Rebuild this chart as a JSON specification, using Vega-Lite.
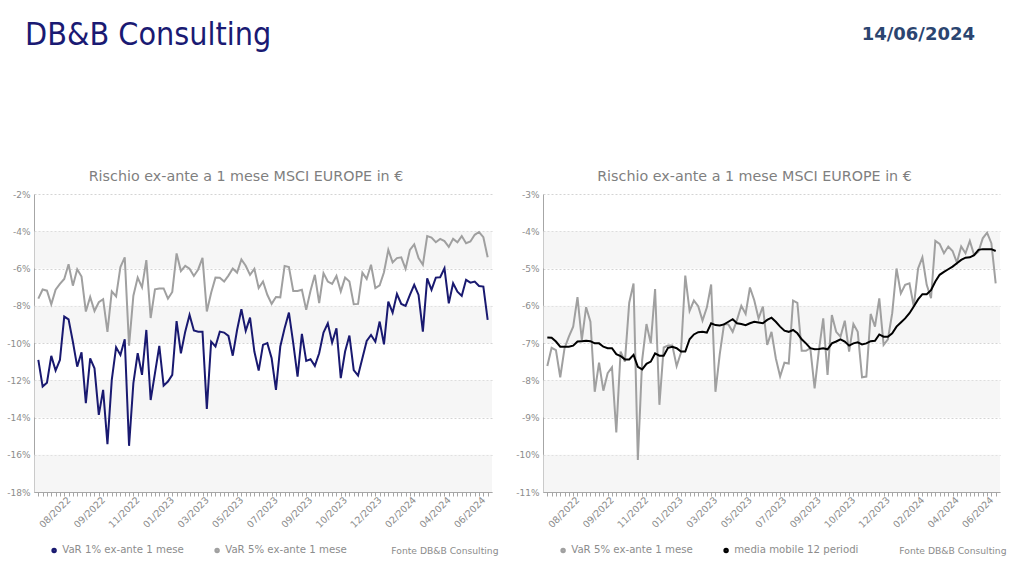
{
  "$schema": "https://vega.github.io/schema/vega-lite/v6.json",
  "background": "white",
  "padding": {"left": 6, "top": 18, "right": 5, "bottom": 5},
  "title": {"text": "DB&B Consulting", "anchor": "start", "frame": "group", "fontSize": 32, "font": "DejaVu Sans Condensed", "fontWeight": "normal", "color": "#1a1a73", "offset": -26, "dx": -9},
  "datasets": {
    "bandsL": [{"a": -4, "b": -6}, {"a": -8, "b": -10}, {"a": -12, "b": -14}, {"a": -16, "b": -18}],
    "bandsR": [{"a": -4, "b": -5}, {"a": -6, "b": -7}, {"a": -8, "b": -9}, {"a": -10, "b": -11}],
    "var": [
      {"d": "2022-06-17", "v1": -10.91, "v5": -7.62, "ma": -6.85},
      {"d": "2022-06-24", "v1": -12.34, "v5": -7.13, "ma": -6.86},
      {"d": "2022-07-01", "v1": -12.13, "v5": -7.19, "ma": -6.96},
      {"d": "2022-07-08", "v1": -10.69, "v5": -7.92, "ma": -7.10},
      {"d": "2022-07-15", "v1": -11.48, "v5": -7.14, "ma": -7.10},
      {"d": "2022-07-22", "v1": -10.91, "v5": -6.83, "ma": -7.10},
      {"d": "2022-07-29", "v1": -8.58, "v5": -6.56, "ma": -7.07},
      {"d": "2022-08-05", "v1": -8.73, "v5": -5.77, "ma": -6.96},
      {"d": "2022-08-12", "v1": -9.93, "v5": -6.92, "ma": -6.95},
      {"d": "2022-08-19", "v1": -11.27, "v5": -6.04, "ma": -6.94},
      {"d": "2022-08-26", "v1": -10.50, "v5": -6.43, "ma": -6.95},
      {"d": "2022-09-02", "v1": -13.23, "v5": -8.31, "ma": -7.01},
      {"d": "2022-09-09", "v1": -10.82, "v5": -7.53, "ma": -7.01},
      {"d": "2022-09-16", "v1": -11.36, "v5": -8.28, "ma": -7.10},
      {"d": "2022-09-23", "v1": -13.86, "v5": -7.81, "ma": -7.14},
      {"d": "2022-09-30", "v1": -12.52, "v5": -7.65, "ma": -7.14},
      {"d": "2022-10-07", "v1": -15.43, "v5": -9.40, "ma": -7.30},
      {"d": "2022-10-14", "v1": -11.98, "v5": -7.23, "ma": -7.35},
      {"d": "2022-10-21", "v1": -10.23, "v5": -7.50, "ma": -7.44},
      {"d": "2022-10-28", "v1": -10.64, "v5": -5.92, "ma": -7.44},
      {"d": "2022-11-04", "v1": -9.80, "v5": -5.40, "ma": -7.32},
      {"d": "2022-11-11", "v1": -15.52, "v5": -10.14, "ma": -7.64},
      {"d": "2022-11-18", "v1": -12.16, "v5": -7.46, "ma": -7.71},
      {"d": "2022-11-25", "v1": -10.55, "v5": -6.49, "ma": -7.56},
      {"d": "2022-12-02", "v1": -11.71, "v5": -7.01, "ma": -7.50},
      {"d": "2022-12-09", "v1": -9.30, "v5": -5.55, "ma": -7.28},
      {"d": "2022-12-16", "v1": -13.06, "v5": -8.66, "ma": -7.34},
      {"d": "2022-12-23", "v1": -11.62, "v5": -7.12, "ma": -7.34},
      {"d": "2022-12-30", "v1": -10.16, "v5": -7.07, "ma": -7.13},
      {"d": "2023-01-06", "v1": -12.29, "v5": -7.07, "ma": -7.10},
      {"d": "2023-01-13", "v1": -12.07, "v5": -7.62, "ma": -7.14},
      {"d": "2023-01-20", "v1": -11.71, "v5": -7.26, "ma": -7.23},
      {"d": "2023-01-27", "v1": -8.82, "v5": -5.19, "ma": -7.23},
      {"d": "2023-02-03", "v1": -10.55, "v5": -6.14, "ma": -6.90},
      {"d": "2023-02-10", "v1": -9.39, "v5": -5.86, "ma": -6.77},
      {"d": "2023-02-17", "v1": -8.49, "v5": -6.01, "ma": -6.71},
      {"d": "2023-02-24", "v1": -9.33, "v5": -6.40, "ma": -6.70},
      {"d": "2023-03-03", "v1": -9.39, "v5": -6.05, "ma": -6.72},
      {"d": "2023-03-10", "v1": -9.39, "v5": -5.43, "ma": -6.47},
      {"d": "2023-03-17", "v1": -13.54, "v5": -8.31, "ma": -6.52},
      {"d": "2023-03-24", "v1": -9.93, "v5": -7.30, "ma": -6.53},
      {"d": "2023-03-31", "v1": -10.19, "v5": -6.49, "ma": -6.50},
      {"d": "2023-04-07", "v1": -9.39, "v5": -6.50, "ma": -6.43},
      {"d": "2023-04-14", "v1": -9.44, "v5": -6.70, "ma": -6.36},
      {"d": "2023-04-21", "v1": -9.62, "v5": -6.38, "ma": -6.47},
      {"d": "2023-04-28", "v1": -10.68, "v5": -6.00, "ma": -6.49},
      {"d": "2023-05-05", "v1": -9.30, "v5": -6.22, "ma": -6.52},
      {"d": "2023-05-12", "v1": -8.19, "v5": -5.51, "ma": -6.47},
      {"d": "2023-05-19", "v1": -9.35, "v5": -5.85, "ma": -6.43},
      {"d": "2023-05-26", "v1": -8.64, "v5": -6.34, "ma": -6.45},
      {"d": "2023-06-02", "v1": -10.46, "v5": -6.02, "ma": -6.47},
      {"d": "2023-06-09", "v1": -11.48, "v5": -7.05, "ma": -6.38},
      {"d": "2023-06-16", "v1": -10.10, "v5": -6.70, "ma": -6.32},
      {"d": "2023-06-23", "v1": -10.01, "v5": -7.41, "ma": -6.43},
      {"d": "2023-06-30", "v1": -10.82, "v5": -7.90, "ma": -6.56},
      {"d": "2023-07-07", "v1": -12.52, "v5": -7.53, "ma": -6.67},
      {"d": "2023-07-14", "v1": -10.19, "v5": -7.55, "ma": -6.70},
      {"d": "2023-07-21", "v1": -9.21, "v5": -5.86, "ma": -6.65},
      {"d": "2023-07-28", "v1": -8.37, "v5": -5.92, "ma": -6.74},
      {"d": "2023-08-04", "v1": -10.01, "v5": -7.21, "ma": -6.90},
      {"d": "2023-08-11", "v1": -11.80, "v5": -7.21, "ma": -7.01},
      {"d": "2023-08-18", "v1": -9.51, "v5": -7.14, "ma": -7.14},
      {"d": "2023-08-25", "v1": -10.96, "v5": -8.22, "ma": -7.17},
      {"d": "2023-09-01", "v1": -10.87, "v5": -7.19, "ma": -7.16},
      {"d": "2023-09-08", "v1": -11.23, "v5": -6.34, "ma": -7.14},
      {"d": "2023-09-15", "v1": -10.55, "v5": -7.86, "ma": -7.17},
      {"d": "2023-09-22", "v1": -9.44, "v5": -6.25, "ma": -7.01},
      {"d": "2023-09-29", "v1": -8.94, "v5": -6.70, "ma": -6.96},
      {"d": "2023-10-06", "v1": -9.98, "v5": -6.83, "ma": -6.90},
      {"d": "2023-10-13", "v1": -9.21, "v5": -6.40, "ma": -6.96},
      {"d": "2023-10-20", "v1": -11.89, "v5": -7.23, "ma": -7.07},
      {"d": "2023-10-27", "v1": -10.46, "v5": -6.49, "ma": -7.01},
      {"d": "2023-11-03", "v1": -9.60, "v5": -6.70, "ma": -6.98},
      {"d": "2023-11-10", "v1": -11.45, "v5": -7.92, "ma": -7.04},
      {"d": "2023-11-17", "v1": -11.75, "v5": -7.90, "ma": -7.01},
      {"d": "2023-11-24", "v1": -10.82, "v5": -6.22, "ma": -6.95},
      {"d": "2023-12-01", "v1": -9.89, "v5": -6.56, "ma": -6.94},
      {"d": "2023-12-08", "v1": -9.57, "v5": -5.80, "ma": -6.77},
      {"d": "2023-12-15", "v1": -9.93, "v5": -7.05, "ma": -6.83},
      {"d": "2023-12-22", "v1": -8.85, "v5": -6.90, "ma": -6.83},
      {"d": "2023-12-29", "v1": -10.07, "v5": -6.20, "ma": -6.74},
      {"d": "2024-01-05", "v1": -7.78, "v5": -5.00, "ma": -6.56},
      {"d": "2024-01-12", "v1": -8.37, "v5": -5.67, "ma": -6.45},
      {"d": "2024-01-19", "v1": -7.37, "v5": -5.44, "ma": -6.34},
      {"d": "2024-01-26", "v1": -7.90, "v5": -5.40, "ma": -6.20},
      {"d": "2024-02-02", "v1": -8.01, "v5": -6.02, "ma": -6.02},
      {"d": "2024-02-09", "v1": -7.42, "v5": -5.00, "ma": -5.83},
      {"d": "2024-02-16", "v1": -6.88, "v5": -4.70, "ma": -5.69},
      {"d": "2024-02-23", "v1": -7.42, "v5": -5.44, "ma": -5.69},
      {"d": "2024-03-01", "v1": -9.39, "v5": -5.80, "ma": -5.58},
      {"d": "2024-03-08", "v1": -6.53, "v5": -4.26, "ma": -5.35},
      {"d": "2024-03-15", "v1": -7.15, "v5": -4.34, "ma": -5.17},
      {"d": "2024-03-22", "v1": -6.49, "v5": -4.59, "ma": -5.09},
      {"d": "2024-03-29", "v1": -6.47, "v5": -4.41, "ma": -5.02},
      {"d": "2024-04-05", "v1": -5.99, "v5": -4.53, "ma": -4.95},
      {"d": "2024-04-12", "v1": -7.87, "v5": -4.84, "ma": -4.86},
      {"d": "2024-04-19", "v1": -6.79, "v5": -4.41, "ma": -4.77},
      {"d": "2024-04-26", "v1": -7.24, "v5": -4.59, "ma": -4.71},
      {"d": "2024-05-03", "v1": -7.47, "v5": -4.26, "ma": -4.70},
      {"d": "2024-05-10", "v1": -6.61, "v5": -4.64, "ma": -4.64},
      {"d": "2024-05-17", "v1": -6.76, "v5": -4.55, "ma": -4.50},
      {"d": "2024-05-24", "v1": -6.70, "v5": -4.19, "ma": -4.48},
      {"d": "2024-05-31", "v1": -6.94, "v5": -4.04, "ma": -4.48},
      {"d": "2024-06-07", "v1": -6.97, "v5": -4.32, "ma": -4.48},
      {"d": "2024-06-14", "v1": -8.76, "v5": -5.40, "ma": -4.53}
    ]
  },
  "vconcat": [
    {
      "title": {"text": "14/06/2024", "anchor": "end", "frame": "bounds", "fontSize": 18, "font": "DejaVu Sans", "fontWeight": "bold", "color": "#2B4570", "offset": 126, "dx": -31},
      "spacing": 17,
      "resolve": {"scale": {"color": "independent"}, "legend": {"color": "independent"}},
      "hconcat": [
        {
          "width": 458,
          "height": 298,
          "title": {"text": "Rischio ex-ante a 1 mese MSCI EUROPE in €", "dx": -17, "offset": 6, "fontSize": 14.3, "color": "#7f7f7f", "fontWeight": "normal"},
          "layer": [
            {
              "data": {"name": "bandsL"},
              "mark": {"type": "rect", "fill": "#eeeeee", "opacity": 0.5},
              "encoding": {
                "x": {"value": 0},
                "x2": {"value": "width"},
                "y": {"field": "a", "type": "quantitative", "scale": {"domain": [-18, -2], "nice": false, "zero": false},
                  "axis": {"title": null, "tickCount": 8, "labelExpr": "datum.value + '%'", "labelFontSize": 9, "labelPadding": 4, "labelOverlap": false, "labelSeparation": 0, "ticks": false, "grid": true}},
                "y2": {"field": "b"}
              }
            },
            {
              "data": {"name": "var"},
              "mark": {"type": "line", "strokeWidth": 2},
              "encoding": {
                "x": {"field": "d", "type": "ordinal", "scale": {"type": "point", "padding": 1},
                  "axis": {"title": "Fonte DB&B Consulting", "titleAnchor": "end", "titleAlign": "right", "titleX": 464, "titleY": 61, "titleBaseline": "alphabetic", "titleColor": "#8c8c8c", "titleFontSize": 9.2, "titleFontWeight": "normal",
                    "labelAngle": -45, "labelAlign": "right", "labelBaseline": "middle", "labelFontSize": 9.5, "labelPadding": 2, "labelOverlap": false, "tickSize": 4, "grid": false,
                    "labelExpr": "indexof(['2022-08-05','2022-09-30','2022-11-25','2023-01-20','2023-03-17','2023-05-12','2023-07-07','2023-09-01','2023-10-27','2023-12-22','2024-02-16','2024-04-12','2024-06-07'], datum.value) >= 0 ? substring(datum.value, 5, 7) + '/' + substring(datum.value, 0, 4) : ''"}},
                "y": {"field": "v5", "type": "quantitative"},
                "color": {"datum": "VaR 5% ex-ante 1 mese", "type": "nominal",
                  "scale": {"domain": ["VaR 1% ex-ante 1 mese", "VaR 5% ex-ante 1 mese"], "range": ["#191970", "#a0a0a0"]},
                  "legend": {"orient": "none", "legendX": 15, "legendY": 351, "direction": "horizontal", "title": null, "symbolType": "circle", "symbolSize": 6, "symbolStrokeWidth": 3, "labelFontSize": 10.2, "labelColor": "#8c8c8c", "labelOffset": 3, "columnPadding": 25}}
              }
            },
            {
              "data": {"name": "var"},
              "mark": {"type": "line", "strokeWidth": 2},
              "encoding": {
                "x": {"field": "d", "type": "ordinal"},
                "y": {"field": "v1", "type": "quantitative"},
                "color": {"datum": "VaR 1% ex-ante 1 mese", "type": "nominal"}
              }
            }
          ]
        },
        {
          "width": 457,
          "height": 298,
          "title": {"text": "Rischio ex-ante a 1 mese MSCI EUROPE in €", "dx": -17, "offset": 6, "fontSize": 14.3, "color": "#7f7f7f", "fontWeight": "normal"},
          "layer": [
            {
              "data": {"name": "bandsR"},
              "mark": {"type": "rect", "fill": "#eeeeee", "opacity": 0.5},
              "encoding": {
                "x": {"value": 0},
                "x2": {"value": "width"},
                "y": {"field": "a", "type": "quantitative", "scale": {"domain": [-11, -3], "nice": false, "zero": false},
                  "axis": {"title": null, "tickCount": 8, "labelExpr": "datum.value + '%'", "labelFontSize": 9, "labelPadding": 4, "labelOverlap": false, "labelSeparation": 0, "ticks": false, "grid": true}},
                "y2": {"field": "b"}
              }
            },
            {
              "data": {"name": "var"},
              "mark": {"type": "line", "strokeWidth": 2},
              "encoding": {
                "x": {"field": "d", "type": "ordinal", "scale": {"type": "point", "padding": 1},
                  "axis": {"title": "Fonte DB&B Consulting", "titleAnchor": "end", "titleAlign": "right", "titleX": 463, "titleY": 61, "titleBaseline": "alphabetic", "titleColor": "#8c8c8c", "titleFontSize": 9.2, "titleFontWeight": "normal",
                    "labelAngle": -45, "labelAlign": "right", "labelBaseline": "middle", "labelFontSize": 9.5, "labelPadding": 2, "labelOverlap": false, "tickSize": 4, "grid": false,
                    "labelExpr": "indexof(['2022-08-05','2022-09-30','2022-11-25','2023-01-20','2023-03-17','2023-05-12','2023-07-07','2023-09-01','2023-10-27','2023-12-22','2024-02-16','2024-04-12','2024-06-07'], datum.value) >= 0 ? substring(datum.value, 5, 7) + '/' + substring(datum.value, 0, 4) : ''"}},
                "y": {"field": "v5", "type": "quantitative"},
                "color": {"datum": "VaR 5% ex-ante 1 mese", "type": "nominal",
                  "scale": {"domain": ["VaR 5% ex-ante 1 mese", "media mobile 12 periodi"], "range": ["#a0a0a0", "#000000"]},
                  "legend": {"orient": "none", "legendX": 15, "legendY": 351, "direction": "horizontal", "title": null, "symbolType": "circle", "symbolSize": 6, "symbolStrokeWidth": 3, "labelFontSize": 10.2, "labelColor": "#8c8c8c", "labelOffset": 3, "columnPadding": 25}}
              }
            },
            {
              "data": {"name": "var"},
              "mark": {"type": "line", "strokeWidth": 2},
              "encoding": {
                "x": {"field": "d", "type": "ordinal"},
                "y": {"field": "ma", "type": "quantitative"},
                "color": {"datum": "media mobile 12 periodi", "type": "nominal"}
              }
            }
          ]
        }
      ]
    }
  ],
  "config": {
    "font": "DejaVu Sans",
    "view": {"stroke": null},
    "axis": {"domainColor": "#a6a6a6", "labelColor": "#8c8c8c", "gridColor": "#d4d4d4", "gridDash": [2, 2], "tickColor": "#a6a6a6", "labelOverlap": false}
  }
}
